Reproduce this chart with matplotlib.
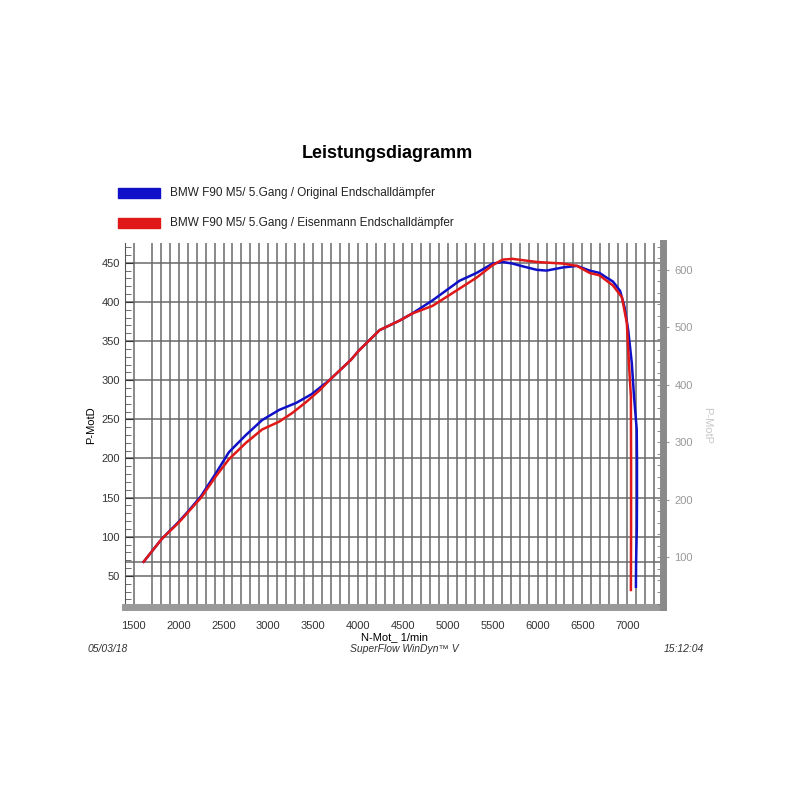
import numpy as np
import matplotlib.pyplot as plt
from matplotlib.ticker import MultipleLocator
from matplotlib.patches import Rectangle

plt.rcParams['font.family'] = ['Liberation Sans', 'DejaVu Sans']

# Run data (rpm, kW) read from the dyno sheet
rpm_orig = [1610, 1810, 2000, 2110, 2250, 2420, 2560, 2750, 2930, 3120, 3310, 3480,
            3680, 3920, 4010, 4240, 4460, 4600, 4830, 5130, 5320, 5500, 5610, 5720,
            5850, 5990, 6100, 6280, 6440, 6580, 6690, 6770, 6840, 6920, 6970, 7010,
            7050, 7075, 7105, 7108, 7108, 7106, 7098, 7096]
kw_orig = [68, 97, 119, 133, 152, 182, 208, 230, 249, 262, 271, 282,
           300, 326, 338, 364, 376, 385, 402, 427, 437, 449, 451, 449,
           445, 441, 440, 444, 446, 440, 437, 431, 426, 414, 393, 364,
           322, 279, 237, 195, 152, 110, 68, 36]

rpm_eis = [1610, 1810, 2000, 2110, 2250, 2420, 2560, 2750, 2930, 3120, 3265, 3420,
           3570, 3680, 3920, 4010, 4240, 4460, 4600, 4830, 5130, 5320, 5500, 5610,
           5720, 5990, 6280, 6440, 6580, 6690, 6770, 6840, 6940, 6995, 7018, 7040,
           7042, 7042, 7040]
kw_eis = [68, 97, 118, 132, 150, 178, 199, 220, 237, 247, 258, 272,
          287, 300, 326, 338, 364, 376, 385, 395, 417, 431, 447, 454,
          455, 451, 449, 446, 437, 434, 427, 421, 406, 373, 322, 279,
          195, 110, 32]

labels = ["BMW F90 M5/ 5.Gang / Original Endschalldämpfer",
          "BMW F90 M5/ 5.Gang / Eisenmann Endschalldämpfer"]
colors = ["#1010c8", "#e01818"]

fig = plt.figure(figsize=(8, 8), dpi=100)
ax = fig.add_axes([0.156, 0.241, 0.673, 0.455])

# grid
vlines = [1500] + list(range(1700, 7400, 100))
for v in vlines:
    ax.axvline(v, color='#6a6a6a', lw=1.1, zorder=1)
for h in list(range(50, 451, 50)) + [68]:
    ax.axhline(h, color='#6a6a6a', lw=1.1, zorder=1)

ax.plot(rpm_orig, kw_orig, color=colors[0], lw=1.8, zorder=3)
ax.plot(rpm_eis, kw_eis, color=colors[1], lw=1.8, zorder=4)

ax.set_xlim(1400, 7400)
ax.set_ylim(10, 475)
ax.set_xticks(range(1500, 7001, 500))
ax.set_yticks(range(50, 451, 50))
ax.yaxis.set_minor_locator(MultipleLocator(10))
ax.tick_params(axis='x', length=0, labelsize=8, pad=10, colors='#333333')
ax.tick_params(axis='y', which='major', direction='in', length=6, labelsize=8,
               colors='#333333')
ax.tick_params(axis='y', which='minor', direction='in', length=4, colors='#555555')

for s in ['top']:
    ax.spines[s].set_visible(False)
ax.spines['left'].set_color('#555555')
ax.spines['bottom'].set_color('#999999')
ax.spines['bottom'].set_linewidth(5)
ax.spines['right'].set_visible(False)

ax.set_ylabel("P-MotD", fontsize=8, labelpad=4)
ax.set_xlabel("N-Mot_ 1/min", fontsize=8, labelpad=1)

# right axis in PS
ax2 = ax.twinx()
ax2.set_ylim(10 * 1.36, 475 * 1.36)
ax2.set_yticks(range(100, 601, 100))
ax2.yaxis.set_minor_locator(MultipleLocator(20))
ax2.tick_params(axis='y', which='major', direction='inout', length=8, labelsize=8,
                colors='#999999', pad=4)
ax2.tick_params(axis='y', which='minor', direction='in', length=4, colors='#777777')
for s in ['top', 'left', 'bottom']:
    ax2.spines[s].set_visible(False)
ax2.spines['right'].set_color('#8a8a8a')
ax2.spines['right'].set_linewidth(5)
ax2.set_ylabel("P-MotP", fontsize=8, color='#c8c8c8', rotation=270, labelpad=14)

# title and legend
fig.text(0.484, 0.808, "Leistungsdiagramm", fontsize=13, fontweight='bold',
         ha='center', va='center')
for i, (lab, c) in enumerate(zip(labels, colors)):
    y = 0.759 - i * 0.0375
    fig.patches.append(Rectangle((0.148, y - 0.006), 0.052, 0.012, color=c,
                                 transform=fig.transFigure, figure=fig))
    fig.text(0.213, y, lab, fontsize=8.5, va='center', color='#222222')

# footer
fig.text(0.11, 0.189, "05/03/18", fontsize=7.5, style='italic', va='center',
         color='#333333')
fig.text(0.506, 0.189, "SuperFlow WinDyn\u2122 V", fontsize=7.5, style='italic',
         ha='center', va='center', color='#333333')
fig.text(0.88, 0.189, "15:12:04", fontsize=7.5, style='italic', ha='right',
         va='center', color='#333333')

fig.savefig("out.png", dpi=100)
